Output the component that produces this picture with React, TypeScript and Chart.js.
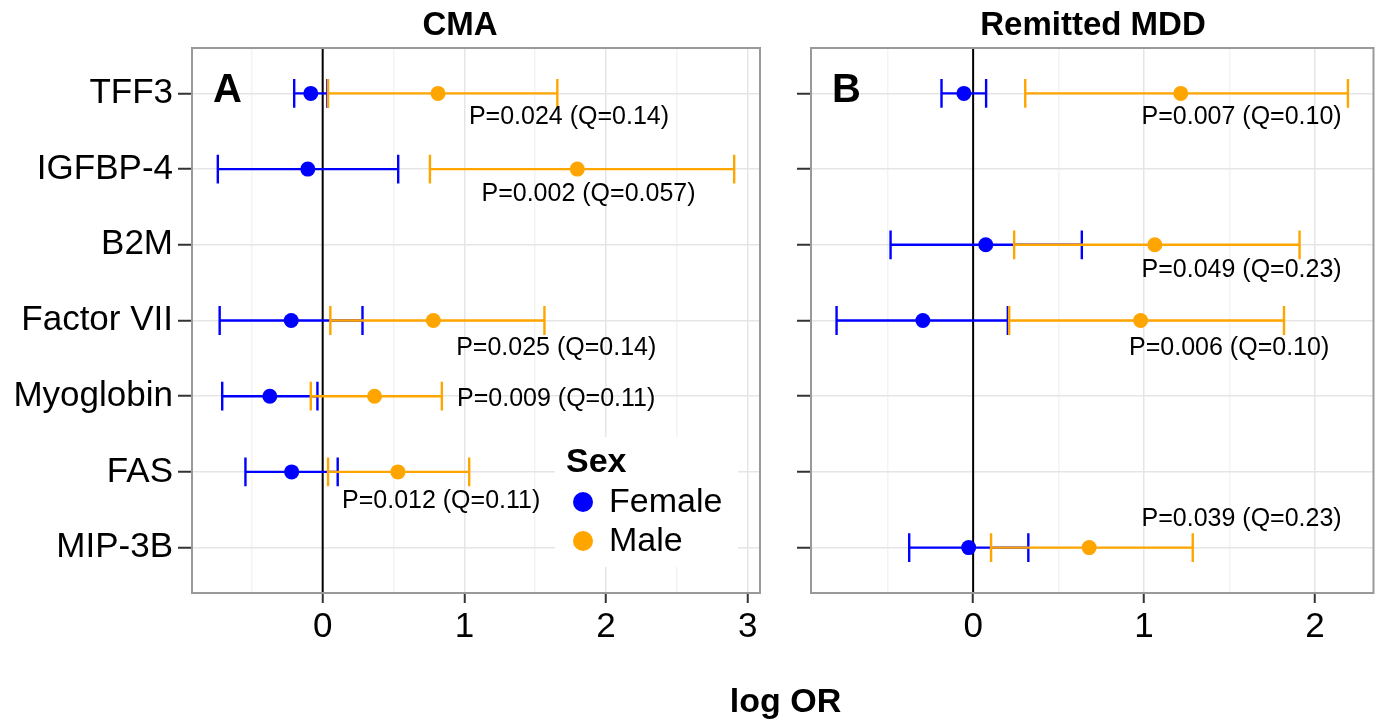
import React, { useEffect, useRef } from 'react';
import { Chart, registerables } from 'chart.js';

Chart.register(...registerables);

const FONT = '"Liberation Sans", Arial, Helvetica, sans-serif';
Chart.defaults.font.family = FONT;

// ---------- data ----------
const categories = ['TFF3', 'IGFBP-4', 'B2M', 'Factor VII', 'Myoglobin', 'FAS', 'MIP-3B'];
const categoryIndex = [0, 1, 2, 3, 4, 5, 6];
const sexLabels = ['Female', 'Male'];
const sexColors = ['#0000FF', '#FFA500'];

// Panel A: CMA (log OR, lower, upper)
const cmaFemaleEst = [-0.084, -0.105, null, -0.222, -0.373, -0.219, null];
const cmaFemaleLo = [-0.201, -0.740, null, -0.727, -0.709, -0.545, null];
const cmaFemaleHi = [0.033, 0.533, null, 0.281, -0.037, 0.106, null];
const cmaMaleEst = [0.814, 1.797, null, 0.781, 0.366, 0.531, null];
const cmaMaleLo = [0.038, 0.757, null, 0.054, -0.084, 0.038, null];
const cmaMaleHi = [1.656, 2.904, null, 1.565, 0.841, 1.034, null];

// Panel B: Remitted MDD
const mddFemaleEst = [-0.054, null, 0.074, -0.294, null, null, -0.026];
const mddFemaleLo = [-0.185, null, -0.483, -0.799, null, null, -0.374];
const mddFemaleHi = [0.076, null, 0.636, 0.203, null, null, 0.323];
const mddMaleEst = [1.215, null, 1.063, 0.980, null, null, 0.679];
const mddMaleLo = [0.305, null, 0.240, 0.211, null, null, 0.105];
const mddMaleHi = [2.193, null, 1.910, 1.819, null, null, 1.285];

const cmaTicks = [-0.5, 0, 0.5, 1, 1.5, 2, 2.5, 3];
const mddTicks = [-0.5, 0, 0.5, 1, 1.5, 2];

// annotations (data coordinates: x = log OR, y = category position)
const cmaNoteText = ['P=0.024 (Q=0.14)', 'P=0.002 (Q=0.057)', 'P=0.025 (Q=0.14)', 'P=0.009 (Q=0.11)', 'P=0.012 (Q=0.11)'];
const cmaNoteX = [1.738, 1.876, 1.648, 1.648, 0.836];
const cmaNoteY = [0.31, 1.33, 3.36, 4.04, 5.39];

const mddNoteText = ['P=0.007 (Q=0.10)', 'P=0.049 (Q=0.23)', 'P=0.006 (Q=0.10)', 'P=0.039 (Q=0.23)'];
const mddNoteX = [1.571, 1.571, 1.498, 1.571];
const mddNoteY = [0.31, 2.33, 3.37, 5.63];

// ---------- helpers ----------
const isMajor = (v: number) => Math.abs(v - Math.round(v)) < 1e-9;

function expandedRange(lo: (number | null)[][], hi: (number | null)[][]) {
  const l = lo.flat().filter((v) => v != null) as number[];
  const h = hi.flat().filter((v) => v != null) as number[];
  const mn = Math.min(...l);
  const mx = Math.max(...h);
  const pad = (mx - mn) * 0.05;
  return [mn - pad, mx + pad];
}

type PanelCfg = {
  title: string;
  titleX: number;
  letter: string;
  femaleEst: (number | null)[];
  femaleLo: (number | null)[];
  femaleHi: (number | null)[];
  maleEst: (number | null)[];
  maleLo: (number | null)[];
  maleHi: (number | null)[];
  ticks: number[];
  noteText: string[];
  noteX: number[];
  noteY: number[];
  showYLabels: boolean;
  yAxisWidth: number;
  padRight: number;
  showLegend: boolean;
};

function makePlugin(cfg: PanelCfg) {
  const drawBars = (chart: any, lo: (number | null)[], hi: (number | null)[], color: string) => {
    const { ctx, scales } = chart;
    const xs = scales.x;
    const ys = scales.y;
    ctx.save();
    ctx.strokeStyle = color;
    ctx.lineWidth = 2.4;
    ctx.lineCap = 'butt';
    for (let i = 0; i < lo.length; i++) {
      const a = lo[i];
      const b = hi[i];
      if (a == null || b == null) continue;
      const y = ys.getPixelForValue(i);
      const h = Math.abs(ys.getPixelForValue(i + 0.19) - y);
      const x1 = xs.getPixelForValue(a);
      const x2 = xs.getPixelForValue(b);
      ctx.beginPath();
      ctx.moveTo(x1, y);
      ctx.lineTo(x2, y);
      ctx.moveTo(x1, y - h);
      ctx.lineTo(x1, y + h);
      ctx.moveTo(x2, y - h);
      ctx.lineTo(x2, y + h);
      ctx.stroke();
    }
    ctx.restore();
  };

  return {
    id: 'forest-' + cfg.letter,
    beforeDatasetsDraw(chart: any) {
      const { ctx, chartArea, scales } = chart;
      const x0 = scales.x.getPixelForValue(0);
      ctx.save();
      ctx.strokeStyle = '#000';
      ctx.lineWidth = 2;
      ctx.beginPath();
      ctx.moveTo(x0, chartArea.top);
      ctx.lineTo(x0, chartArea.bottom);
      ctx.stroke();
      ctx.restore();
      drawBars(chart, cfg.femaleLo, cfg.femaleHi, sexColors[0]);
      drawBars(chart, cfg.maleLo, cfg.maleHi, sexColors[1]);
    },
    afterDatasetsDraw(chart: any) {
      const { ctx, chartArea, scales } = chart;
      const xs = scales.x;
      const ys = scales.y;
      ctx.save();
      // annotations
      ctx.fillStyle = '#000';
      ctx.font = `25px ${FONT}`;
      ctx.textAlign = 'center';
      ctx.textBaseline = 'middle';
      cfg.noteText.forEach((t, i) => {
        ctx.fillText(t, xs.getPixelForValue(cfg.noteX[i]), ys.getPixelForValue(cfg.noteY[i]));
      });
      // panel letter
      ctx.font = `bold 40px ${FONT}`;
      ctx.textAlign = 'left';
      ctx.textBaseline = 'alphabetic';
      ctx.fillText(cfg.letter, chartArea.left + 21, chartArea.top + 54);
      // legend
      if (cfg.showLegend) {
        const bx = chartArea.right - 205;
        const by = chartArea.bottom - 156;
        ctx.fillStyle = '#fff';
        ctx.fillRect(bx, by, 183, 130);
        ctx.fillStyle = '#000';
        ctx.font = `bold 34px ${FONT}`;
        ctx.textBaseline = 'middle';
        ctx.fillText('Sex', bx + 11, by + 26);
        sexLabels.forEach((lab, i) => {
          const cy = by + 65 + i * 39;
          ctx.fillStyle = sexColors[i];
          ctx.beginPath();
          ctx.arc(bx + 28, cy, 10, 0, Math.PI * 2);
          ctx.fill();
          ctx.fillStyle = '#000';
          ctx.font = `34px ${FONT}`;
          ctx.fillText(lab, bx + 54, cy + 1);
        });
      }
      // panel border
      ctx.strokeStyle = '#999999';
      ctx.lineWidth = 2;
      ctx.strokeRect(chartArea.left, chartArea.top, chartArea.right - chartArea.left, chartArea.bottom - chartArea.top);
      // title
      ctx.fillStyle = '#000';
      ctx.font = `bold 33px ${FONT}`;
      ctx.textAlign = 'center';
      ctx.textBaseline = 'middle';
      ctx.fillText(cfg.title, cfg.titleX, 26);
      ctx.restore();
    },
  };
}

function buildConfig(cfg: PanelCfg): any {
  const [xmin, xmax] = expandedRange([cfg.femaleLo, cfg.maleLo], [cfg.femaleHi, cfg.maleHi]);
  const toPts = (est: (number | null)[]) =>
    est.map((v, i) => (v == null ? null : { x: v, y: categoryIndex[i] })).filter((p) => p != null);
  return {
    type: 'scatter',
    data: {
      datasets: [
        {
          label: sexLabels[0],
          data: toPts(cfg.femaleEst),
          backgroundColor: sexColors[0],
          borderWidth: 0,
          pointRadius: 7.5,
          pointHoverRadius: 7.5,
        },
        {
          label: sexLabels[1],
          data: toPts(cfg.maleEst),
          backgroundColor: sexColors[1],
          borderWidth: 0,
          pointRadius: 7.5,
          pointHoverRadius: 7.5,
        },
      ],
    },
    options: {
      responsive: false,
      animation: false,
      events: [],
      layout: { padding: { left: 0, top: 48, right: cfg.padRight, bottom: 0 } },
      plugins: {
        legend: { display: false },
        tooltip: { enabled: false },
        title: { display: false },
      },
      scales: {
        x: {
          type: 'linear',
          min: xmin,
          max: xmax,
          afterBuildTicks: (s: any) => {
            s.ticks = cfg.ticks.map((v) => ({ value: v }));
          },
          afterFit: (s: any) => {
            s.height = 128;
          },
          border: { display: false },
          grid: {
            color: (c: any) => (c.tick && isMajor(c.tick.value) ? '#E5E5E5' : '#F3F3F3'),
            lineWidth: 1.5,
            tickColor: (c: any) => (c.tick && isMajor(c.tick.value) ? '#333333' : 'rgba(0,0,0,0)'),
            tickLength: 10,
            tickWidth: 2,
          },
          ticks: {
            autoSkip: false,
            maxRotation: 0,
            padding: 3,
            color: '#000',
            font: { size: 35 },
            callback: (v: any) => (isMajor(Number(v)) ? String(Math.round(Number(v))) : ''),
          },
        },
        y: {
          type: 'linear',
          reverse: true,
          min: -0.6,
          max: categories.length - 1 + 0.6,
          afterBuildTicks: (s: any) => {
            s.ticks = categoryIndex.map((v) => ({ value: v }));
          },
          afterFit: (s: any) => {
            s.width = cfg.yAxisWidth;
          },
          border: { display: false },
          grid: {
            color: '#E5E5E5',
            lineWidth: 1.5,
            tickColor: '#333333',
            tickLength: 14,
            tickWidth: 2,
          },
          ticks: {
            autoSkip: false,
            padding: 5,
            color: '#000',
            font: { size: 35 },
            callback: (v: any) => (cfg.showYLabels ? categories[Math.round(Number(v))] : ''),
          },
        },
      },
    },
    plugins: [makePlugin(cfg)],
  };
}

const panelA: PanelCfg = {
  title: 'CMA',
  titleX: 460,
  letter: 'A',
  femaleEst: cmaFemaleEst,
  femaleLo: cmaFemaleLo,
  femaleHi: cmaFemaleHi,
  maleEst: cmaMaleEst,
  maleLo: cmaMaleLo,
  maleHi: cmaMaleHi,
  ticks: cmaTicks,
  noteText: cmaNoteText,
  noteX: cmaNoteX,
  noteY: cmaNoteY,
  showYLabels: true,
  yAxisWidth: 192,
  padRight: 25,
  showLegend: true,
};

const panelB: PanelCfg = {
  title: 'Remitted MDD',
  titleX: 308,
  letter: 'B',
  femaleEst: mddFemaleEst,
  femaleLo: mddFemaleLo,
  femaleHi: mddFemaleHi,
  maleEst: mddMaleEst,
  maleLo: mddMaleLo,
  maleHi: mddMaleHi,
  ticks: mddTicks,
  noteText: mddNoteText,
  noteX: mddNoteX,
  noteY: mddNoteY,
  showYLabels: false,
  yAxisWidth: 26,
  padRight: 2,
  showLegend: false,
};

function Panel({ cfg, left, width }: { cfg: PanelCfg; left: number; width: number }) {
  const ref = useRef<HTMLCanvasElement | null>(null);
  useEffect(() => {
    if (!ref.current) return;
    const chart = new Chart(ref.current, buildConfig(cfg));
    return () => chart.destroy();
  }, [cfg]);
  return (
    <canvas
      ref={ref}
      width={width}
      height={721}
      style={{ position: 'absolute', left, top: 0, width, height: 721 }}
    />
  );
}

export default function App() {
  return (
    <div
      style={{
        position: 'fixed',
        left: 0,
        top: 0,
        width: 1381,
        height: 721,
        background: '#fff',
        overflow: 'hidden',
      }}
    >
      <Panel cfg={panelA} left={0} width={785} />
      <Panel cfg={panelB} left={785} width={596} />
      <div
        style={{
          position: 'absolute',
          left: 685.5,
          width: 200,
          top: 683,
          textAlign: 'center',
          fontFamily: FONT,
          fontWeight: 'bold',
          fontSize: 34,
          lineHeight: '34px',
          color: '#000',
        }}
      >
        log OR
      </div>
    </div>
  );
}
